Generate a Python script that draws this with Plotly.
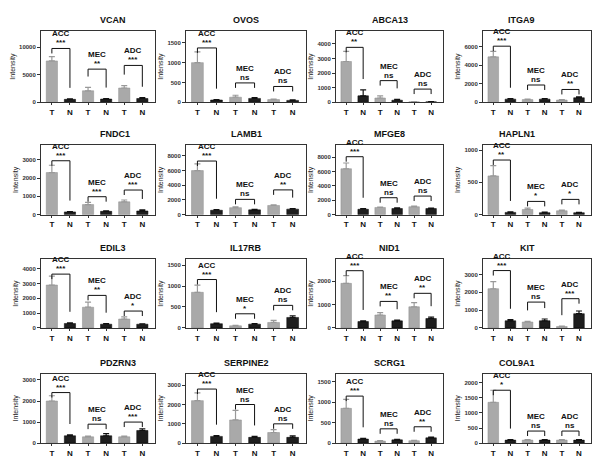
import plotly.graph_objects as go

# ---- data ----
genes = ["VCAN", "OVOS", "ABCA13", "ITGA9",
         "FNDC1", "LAMB1", "MFGE8", "HAPLN1",
         "EDIL3", "IL17RB", "NID1", "KIT",
         "PDZRN3", "SERPINE2", "SCRG1", "COL9A1"]
groups = ["ACC", "MEC", "ADC"]
x_labels = ["T", "N", "T", "N", "T", "N"]

# tumour (T) and normal (N) means / SEM for ACC, MEC, ADC
t_mean = [[7500, 2100, 2600], [1000, 130, 70], [2800, 300, 40], [4900, 300, 250],
          [2300, 550, 700], [6000, 950, 1250], [6400, 1000, 1100], [600, 80, 60],
          [2900, 1400, 600], [850, 50, 130], [1900, 550, 900], [2200, 330, 80],
          [2000, 300, 300], [2200, 1200, 550], [850, 50, 60], [1350, 100, 100]]
t_err = [[800, 600, 450], [270, 50, 10], [700, 150, 10], [600, 50, 50],
         [400, 120, 100], [900, 100, 100], [800, 60, 80], [160, 20, 10],
         [600, 350, 150], [170, 10, 50], [330, 100, 180], [400, 40, 20],
         [250, 40, 40], [400, 500, 150], [220, 10, 10], [400, 20, 20]]
n_mean = [[550, 600, 700], [60, 100, 50], [450, 150, 40], [350, 350, 500],
          [150, 180, 200], [600, 650, 750], [750, 850, 850], [35, 30, 30],
          [300, 250, 250], [100, 90, 250], [270, 300, 400], [400, 400, 800],
          [350, 350, 600], [350, 300, 300], [100, 80, 130], [100, 100, 100]]
n_err = [[100, 100, 150], [10, 20, 15], [400, 60, 20], [50, 50, 100],
         [20, 30, 60], [80, 80, 80], [80, 100, 60], [8, 8, 5],
         [50, 40, 30], [15, 15, 40], [30, 30, 60], [60, 100, 150],
         [40, 100, 80], [40, 50, 80], [20, 15, 20], [20, 20, 20]]
sig = [["***", "**", "***"], ["***", "ns", "ns"], ["**", "ns", "ns"], ["***", "ns", "**"],
       ["***", "***", "***"], ["***", "ns", "**"], ["***", "ns", "ns"], ["**", "*", "*"],
       ["***", "**", "*"], ["***", "*", "ns"], ["***", "**", "**"], ["***", "ns", "***"],
       ["***", "ns", "***"], ["***", "ns", "ns"], ["***", "ns", "**"], ["*", "ns", "ns"]]
bracket_y = [[9760, 6020, 6690], [1370, 490, 400], [3770, 1490, 910], [6050, 1870, 1390],
             [2945, 980, 1345], [7300, 2080, 3370], [8080, 2360, 2590], [846, 205, 236],
             [3640, 2200, 1140], [1155, 337, 538], [2440, 1130, 1475], [3220, 1450, 1640],
             [2400, 900, 1000], [2800, 2000, 1000], [1150, 350, 400], [1750, 400, 400]]
y_max = [12950, 1800, 4900, 7700, 3800, 9470, 9700, 1077,
         4640, 1637, 2924, 3850, 3300, 3600, 1700, 2300]
y_ticks = [[0, 5000, 10000], [0, 500, 1000, 1500], [0, 1000, 2000, 3000, 4000],
           [0, 2000, 4000, 6000], [0, 1000, 2000, 3000], [0, 2000, 4000, 6000, 8000],
           [0, 2000, 4000, 6000, 8000], [0, 500, 1000], [0, 1000, 2000, 3000, 4000],
           [0, 500, 1000, 1500], [0, 1000, 2000], [0, 1000, 2000, 3000],
           [0, 1000, 2000, 3000], [0, 1000, 2000, 3000], [0, 500, 1000, 1500],
           [0, 500, 1000, 1500, 2000]]

# ---- layout geometry (pixels) ----
W, H = 600, 460
COL_X = [(33, 147), (178, 298), (328, 435), (475, 583)]
ROW_Y = [(23, 95), (138, 208), (253, 322), (368, 438)]
FONT = "Arial, Liberation Sans, sans-serif"
T_COLOR = "#a9a9a9"
N_COLOR = "#1e1e1e"

fig = go.Figure()
annotations = []
layout = {}

for i, gene in enumerate(genes):
    r, c = divmod(i, 4)
    x0, x1 = COL_X[c]
    y0, y1 = ROW_Y[r]
    k = "" if i == 0 else str(i + 1)
    xa, ya = "x" + k, "y" + k
    u = y_max[i] / (y1 - y0)  # data units per pixel

    fig.add_trace(go.Bar(
        x=[0, 2, 4], y=t_mean[i], width=0.62, xaxis=xa, yaxis=ya,
        marker=dict(color=T_COLOR, line=dict(color="#8c8c8c", width=0.5)),
        error_y=dict(type="data", array=t_err[i], arrayminus=[0, 0, 0],
                     symmetric=False, color="#999999", thickness=1.2, width=3),
        showlegend=False,
    ))
    fig.add_trace(go.Bar(
        x=[1, 3, 5], y=n_mean[i], width=0.62, xaxis=xa, yaxis=ya,
        marker=dict(color=N_COLOR, line=dict(color="#000000", width=0.5)),
        error_y=dict(type="data", array=n_err[i], arrayminus=[0, 0, 0],
                     symmetric=False, color="#111111", thickness=1.2, width=3),
        showlegend=False,
    ))

    # significance brackets
    bx, by = [], []
    for g in range(3):
        yb = bracket_y[i][g]
        t_top = t_mean[i][g] + t_err[i][g]
        n_top = n_mean[i][g] + n_err[i][g]
        left_end = min(yb - 5 * u, t_top + 11 * u)
        right_end = min(yb - 5 * u, n_top + 11 * u)
        bx += [2 * g, 2 * g, 2 * g + 1, 2 * g + 1, None]
        by += [left_end, yb, yb, right_end, None]
        annotations.append(dict(
            x=2 * g + 0.5, y=yb, xref=xa, yref=ya, text="<b>%s</b>" % sig[i][g],
            showarrow=False, yanchor="bottom", yshift=-1,
            font=dict(family=FONT, size=8, color="#111111")))
        annotations.append(dict(
            x=2 * g + 0.5, y=yb, xref=xa, yref=ya, text="<b>%s</b>" % groups[g],
            showarrow=False, yanchor="bottom", yshift=8,
            font=dict(family=FONT, size=8, color="#111111")))
    fig.add_trace(go.Scatter(
        x=bx, y=by, xaxis=xa, yaxis=ya, mode="lines",
        line=dict(color="#111111", width=1), showlegend=False, hoverinfo="skip"))

    layout["xaxis" + k] = dict(
        domain=[x0 / W, x1 / W], range=[-0.6, 5.7], anchor=ya,
        tickvals=list(range(6)), ticktext=["<b>%s</b>" % t for t in x_labels],
        tickfont=dict(family=FONT, size=8, color="#111111"),
        ticks="outside", ticklen=2, tickcolor="#333333",
        showline=True, mirror=True, linecolor="#333333", linewidth=1,
        showgrid=False, zeroline=False, fixedrange=True)
    layout["yaxis" + k] = dict(
        domain=[1 - y1 / H, 1 - y0 / H], range=[0, y_max[i]], anchor=xa,
        tickvals=y_ticks[i], ticktext=["<b>%d</b>" % v for v in y_ticks[i]],
        tickfont=dict(family=FONT, size=6, color="#333333"),
        ticks="outside", ticklen=3, tickcolor="#333333",
        showline=True, mirror=True, linecolor="#333333", linewidth=1,
        showgrid=False, zeroline=False, fixedrange=True,
        title=dict(text="Intensity", font=dict(family=FONT, size=7, color="#222222"),
                   standoff=2))

    annotations.append(dict(
        x=(x0 + x1) / 2 / W, y=1 - (y0 - 11) / H, xref="paper", yref="paper",
        text="<b>%s</b>" % gene, showarrow=False, yanchor="middle",
        font=dict(family=FONT, size=9, color="#111111")))

fig.update_layout(
    width=W, height=H, margin=dict(l=0, r=0, t=0, b=0),
    paper_bgcolor="white", plot_bgcolor="white",
    barmode="overlay", annotations=annotations, **layout)

fig.write_html("out.html")
